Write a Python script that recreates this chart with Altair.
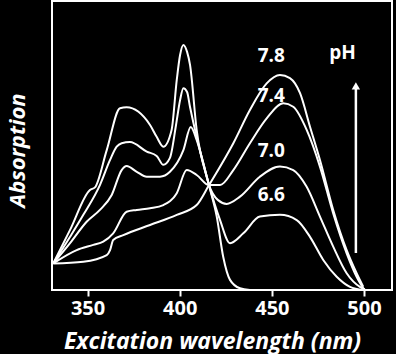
import altair as alt
import pandas as pd

# ---- curve data (wavelength nm, absorption a.u.) ----
wl_c0 = [331.4, 340.5, 351.3, 354.0, 360.4, 367.6, 371.2, 383.9, 387.5, 391.1, 395.6, 398.4,
         400.2, 402.0, 404.0, 405.6, 409.2, 415.9, 420.1, 423.6, 427.3, 432.7, 438.1]
ab_c0 = [0.092, 0.208, 0.346, 0.355, 0.484, 0.629, 0.632, 0.571, 0.530, 0.496, 0.554, 0.727,
         0.813, 0.848, 0.824, 0.779, 0.554, 0.363, 0.254, 0.115, 0.035, 0.006, 0.0]

wl_66 = [331.4, 340.5, 347.7, 356.7, 362.2, 365.8, 368.5, 373.0, 382.1, 387.5, 391.1, 394.7,
         398.0, 400.2, 402.0, 404.0, 405.6, 409.2, 412.8, 415.9, 421.9, 427.3, 434.5, 443.5,
         454.4, 463.5, 470.7, 477.9, 485.2, 492.4, 499.6]
ab_66 = [0.092, 0.184, 0.260, 0.363, 0.450, 0.496, 0.508, 0.512, 0.479, 0.464, 0.433, 0.457,
         0.571, 0.657, 0.698, 0.685, 0.633, 0.529, 0.439, 0.363, 0.242, 0.162, 0.196, 0.254,
         0.260, 0.242, 0.184, 0.104, 0.046, 0.011, 0.0]

wl_70 = [331.4, 340.5, 349.5, 356.7, 363.1, 368.5, 371.2, 376.7, 382.1, 389.3, 394.7, 402.0,
         406.0, 409.2, 412.8, 415.9, 420.8, 425.5, 432.7, 443.5, 454.4, 461.6, 468.9, 476.1,
         483.3, 490.6, 497.8, 500.5]
ab_70 = [0.092, 0.162, 0.236, 0.277, 0.329, 0.415, 0.429, 0.409, 0.392, 0.392, 0.409, 0.484,
         0.564, 0.519, 0.439, 0.363, 0.311, 0.298, 0.323, 0.392, 0.427, 0.415, 0.357, 0.254,
         0.150, 0.058, 0.011, 0.003]

wl_74 = [331.4, 344.1, 353.1, 358.5, 363.9, 371.2, 376.7, 383.9, 391.1, 398.4, 403.8, 409.2,
         415.9, 421.9, 429.1, 438.1, 447.2, 456.2, 461.6, 468.9, 476.1, 483.3, 490.6, 496.0, 499.6]
ab_74 = [0.092, 0.138, 0.156, 0.167, 0.196, 0.271, 0.277, 0.283, 0.294, 0.335, 0.415, 0.398,
         0.363, 0.363, 0.415, 0.508, 0.594, 0.646, 0.634, 0.554, 0.427, 0.265, 0.127, 0.046, 0.006]

wl_78 = [331.4, 347.7, 360.4, 362.2, 363.9, 369.4, 383.9, 398.4, 409.2, 415.9, 429.1, 438.1,
         447.2, 454.4, 459.8, 465.3, 470.7, 476.1, 483.3, 490.6, 496.0, 499.6]
ab_78 = [0.092, 0.098, 0.121, 0.138, 0.173, 0.190, 0.225, 0.260, 0.294, 0.363, 0.508, 0.623,
         0.715, 0.744, 0.733, 0.681, 0.565, 0.450, 0.277, 0.138, 0.058, 0.011]

# ---- annotations ----
ph_labels = ["7.8", "7.4", "7.0", "6.6"]
ph_label_wl = [449.7, 449.7, 449.7, 449.7]
ph_label_ab = [0.788, 0.652, 0.461, 0.309]
ph_title = ["pH"]
ph_title_wl = [488.3]
ph_title_ab = [0.798]
arrow_wl = [495.6]
arrow_ab0 = [0.128]
arrow_ab1 = [0.700]
arrow_head_ab = [0.706]

x_ticks = [350, 400, 450, 500]

rows = []
for name, wl, ab in [("c0", wl_c0, ab_c0), ("6.6", wl_66, ab_66), ("7.0", wl_70, ab_70),
                     ("7.4", wl_74, ab_74), ("7.8", wl_78, ab_78)]:
    for w, a in zip(wl, ab):
        rows.append({"series": name, "wl": w, "ab": a})
curves = pd.DataFrame(rows)

labels_df = pd.DataFrame({"t": ph_labels, "wl": ph_label_wl, "ab": ph_label_ab})
ph_df = pd.DataFrame({"t": ph_title, "wl": ph_title_wl, "ab": ph_title_ab})
arrow_df = pd.DataFrame({"wl": arrow_wl, "ab0": arrow_ab0, "ab1": arrow_ab1, "abh": arrow_head_ab})

FONT = "Open Sans"

xscale = alt.Scale(domain=[330.7, 515.2], nice=False, zero=False)
yscale = alt.Scale(domain=[0, 1], nice=False, zero=False)

xaxis = alt.Axis(values=x_ticks, grid=False, domain=False, ticks=True, tickSize=6, tickWidth=2,
                 tickColor="white", labelColor="white", labelFont=FONT, labelFontSize=20,
                 labelFontWeight="bold", labelPadding=2.5, labelFlush=False,
                 title="Excitation wavelength (nm)", titleColor="white", titleFont=FONT,
                 titleFontSize=23, titleFontWeight="bold", titleFontStyle="italic",
                 titleX=160, titleY=58, titleBaseline="alphabetic", titleAlign="center")
yaxis = alt.Axis(grid=False, domain=False, ticks=False, labels=False,
                 title="Absorption", titleColor="white", titleFont=FONT, titleFontSize=22,
                 titleFontWeight="bold", titleFontStyle="italic", titleAngle=270,
                 titleX=-35, titleY=149, titleAlign="center", titleBaseline="middle")

lines = alt.Chart(curves).mark_line(color="white", strokeWidth=2, interpolate="monotone").encode(
    x=alt.X("wl:Q", scale=xscale, axis=xaxis),
    y=alt.Y("ab:Q", scale=yscale, axis=yaxis),
    detail="series:N",
)

text = alt.Chart(labels_df).mark_text(color="white", font=FONT, fontSize=19, fontWeight="bold",
                                      align="center", baseline="alphabetic").encode(
    x=alt.X("wl:Q", scale=xscale), y=alt.Y("ab:Q", scale=yscale), text="t:N")

ph_text = alt.Chart(ph_df).mark_text(color="white", font=FONT, fontSize=19, fontWeight="bold",
                                     align="center", baseline="alphabetic").encode(
    x=alt.X("wl:Q", scale=xscale), y=alt.Y("ab:Q", scale=yscale), text="t:N")

arrow = alt.Chart(arrow_df).mark_rule(color="white", strokeWidth=2.5).encode(
    x=alt.X("wl:Q", scale=xscale), y=alt.Y("ab0:Q", scale=yscale), y2="ab1:Q")

head = alt.Chart(arrow_df).mark_point(shape="triangle-up", filled=True, color="white",
                                      size=70, opacity=1).encode(
    x=alt.X("wl:Q", scale=xscale), y=alt.Y("abh:Q", scale=yscale))

chart = alt.layer(lines, text, ph_text, arrow, head).properties(
    width=340, height=289,
    background="black",
    padding={"left": 52, "top": 1, "right": 4, "bottom": 64},
    autosize=alt.AutoSizeParams(type="none"),
).configure_view(stroke="white", strokeWidth=2, fill="black")

chart.save("out.html", embed_options={"renderer": "svg", "actions": False})
